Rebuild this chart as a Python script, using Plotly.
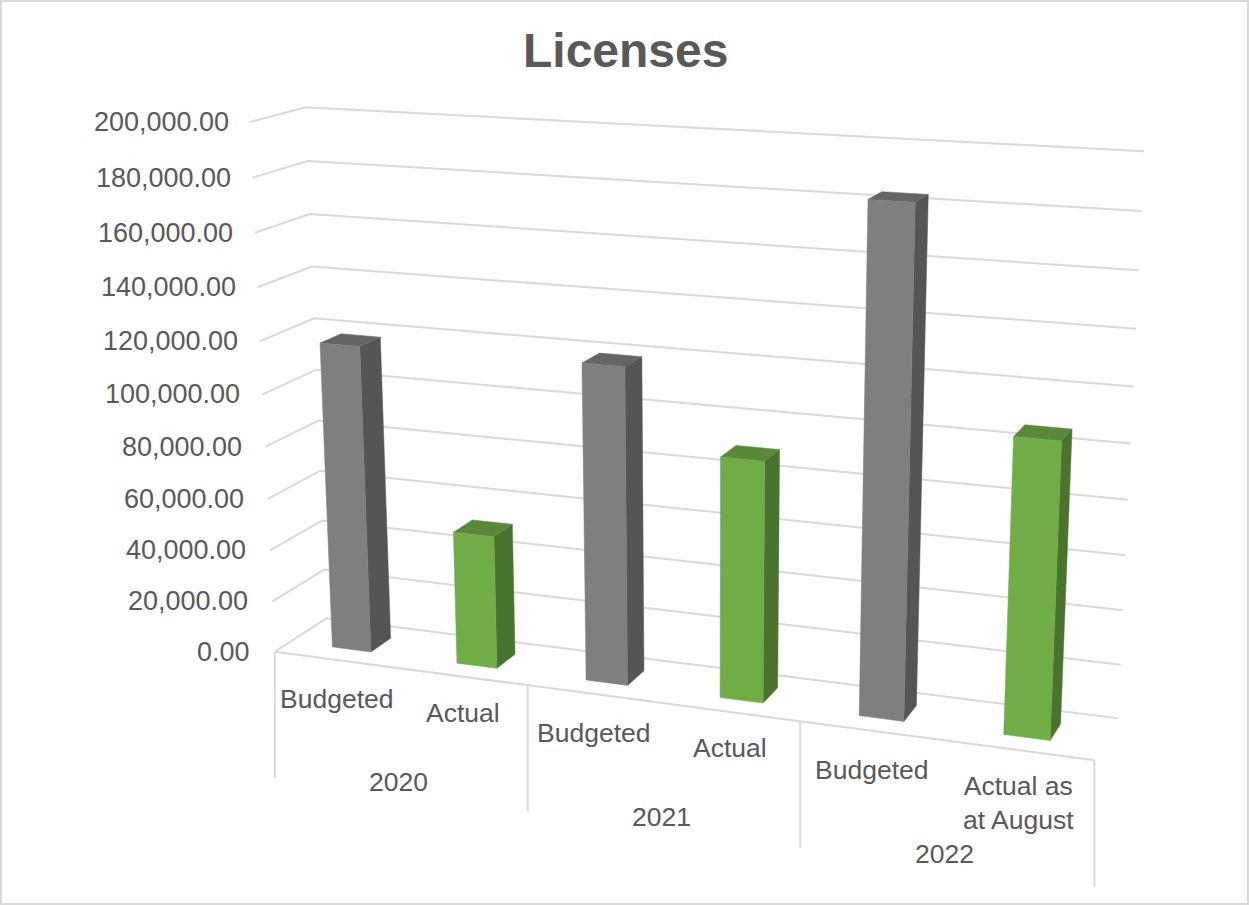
import numpy as np
import plotly.graph_objects as go

# Chart data
title = "Licenses"
years = ["2020", "2021", "2022"]
categories = ["Budgeted", "Actual", "Budgeted", "Actual", "Budgeted", "Actual as<br>at August"]
values = [118000, 51000, 119000, 89500, 183500, 106500]
series_of_bar = ["budget", "actual", "budget", "actual", "budget", "actual"]
value_ticks = list(range(0, 200001, 20000))
value_max = 200000

# Face colours per series: front, side, top
face_colors = {
    "budget": ("#7F7F7F", "#555555", "#656565"),
    "actual": ("#70AD47", "#4A732F", "#5A8A39"),
}
GRID = "#D9D9D9"
TEXT = "#595959"
FONT = "Liberation Sans, Arial, sans-serif"

# Perspective camera: unit-box coordinates (along, depth, height) -> canvas pixels
calibration = [
    ((0, 0, 0), (275, 651.7)), ((0, 1, 0), (326, 618.3)), ((1, 1, 0), (1118.3, 718.3)),
    ((1, 0, 0), (1094.3, 760)), ((0, 0, 1), (249.5, 122)), ((0, 1, 1), (305.7, 107.3)),
    ((1, 1, 1), (1144, 151.3)), ((0, 0, .9), (252.5, 177.7)), ((0, 1, .9), (307.5, 161)),
    ((1, 1, .9), (1141.3, 211)), ((1, 1, .1), (1120.7, 664.7)),
    ((1 / 3, 0, 0), (528, 685)), ((2 / 3, 0, 0), (800, 721.7)),
]
rows = []
for (a, b, c), (px, py) in calibration:
    px, py = px / 1000, py / 1000
    rows.append([a, b, c, 1, 0, 0, 0, 0, -px * a, -px * b, -px * c, -px])
    rows.append([0, 0, 0, 0, a, b, c, 1, -py * a, -py * b, -py * c, -py])
CAMERA = np.linalg.svd(np.array(rows))[2][-1].reshape(3, 4)


def project(along, depth, value):
    """Canvas position of a point in the box; value is in chart units."""
    h = CAMERA @ np.array([along, depth, value / value_max, 1.0])
    return h[0] / h[2] * 1000, h[1] / h[2] * 1000


def polyline(points):
    """Projected x and y lists, with a break after the path."""
    xy = [project(*p) for p in points]
    return [q[0] for q in xy] + [None], [q[1] for q in xy] + [None]


fig = go.Figure()

# Wall gridlines: side wall then back wall, one path per tick
grid_x, grid_y = [], []
for tick in value_ticks:
    gx, gy = polyline([(0, 0, tick), (0, 1, tick), (1, 1, tick)])
    grid_x += gx
    grid_y += gy
# Front edge of the floor
gx, gy = polyline([(0, 0, 0), (1, 0, 0)])
grid_x += gx
grid_y += gy
# Hanging dividers of the two-level category axis
DIVIDER_DROP = 126
for i in range(len(years) + 1):
    fx, fy = project(i / len(years), 0, 0)
    grid_x += [fx, fx, None]
    grid_y += [fy, fy + DIVIDER_DROP, None]
fig.add_trace(go.Scatter(x=grid_x, y=grid_y, mode="lines",
                         line=dict(color=GRID, width=2), hoverinfo="skip"))

# Bars: gather each face type per series so they can be drawn side, top, front
SLOT = 1 / len(values)
BAR_WIDTH = SLOT / 3 * 0.94
DEPTH_FRONT, DEPTH_BACK = 0.3, 0.7
faces = {}
for i, (val, series) in enumerate(zip(values, series_of_bar)):
    left = (i + 0.5) * SLOT - BAR_WIDTH / 2
    right = left + BAR_WIDTH
    f, b = DEPTH_FRONT, DEPTH_BACK
    shapes = {
        "front": [(left, f, 0), (right, f, 0), (right, f, val), (left, f, val), (left, f, 0)],
        "side": [(right, f, 0), (right, b, 0), (right, b, val), (right, f, val), (right, f, 0)],
        "top": [(left, f, val), (right, f, val), (right, b, val), (left, b, val), (left, f, val)],
    }
    for face, pts in shapes.items():
        x, y = polyline(pts)
        store = faces.setdefault((series, face), ([], []))
        store[0].extend(x)
        store[1].extend(y)

for face, color_index in (("side", 1), ("top", 2), ("front", 0)):
    for series, colors in face_colors.items():
        x, y = faces[(series, face)]
        fig.add_trace(go.Scatter(x=x, y=y, mode="lines", fill="toself",
                                 fillcolor=colors[color_index],
                                 line=dict(color=colors[color_index], width=0.5),
                                 hoverinfo="skip"))

annotations = []


def label(text, x, y, anchor="center", size=26.5):
    annotations.append(dict(text=text, x=x, y=y, xref="x", yref="y", showarrow=False,
                            xanchor=anchor, yanchor="middle", align="center",
                            font=dict(family=FONT, size=size, color=TEXT)))


# Value axis labels sit just left of the front edge of the side wall
for tick in value_ticks:
    tx, ty = project(0, 0, tick)
    label(f"{tick:,.2f}", tx - 22.7 + 3.8 * tick / value_max, ty, anchor="right", size=27)

# Category and year labels hang below the front edge of the floor
LABEL_DROP = {"budget": 39, "actual": 36}
for i, (name, series) in enumerate(zip(categories, series_of_bar)):
    tx, ty = project((i + 0.5) * SLOT, 0, 0)
    extra = 17 if "<br>" in name else 0
    label(name, tx, ty + LABEL_DROP[series] + extra)
YEAR_DROP = 114
for i, year in enumerate(years):
    tx, ty = project((i + 0.5) / len(years), 0, 0)
    label(year, tx, ty + YEAR_DROP)

# Chart title
annotations.append(dict(text=f"<b>{title}</b>", x=625, y=50, xref="x", yref="y", showarrow=False,
                        xanchor="center", yanchor="middle",
                        font=dict(family=FONT, size=48, color=TEXT)))

fig.update_layout(
    width=1249, height=905, margin=dict(l=0, r=0, t=0, b=0),
    paper_bgcolor="white", plot_bgcolor="white", showlegend=False,
    xaxis=dict(range=[0, 1249], visible=False, fixedrange=True),
    yaxis=dict(range=[905, 0], visible=False, fixedrange=True),
    annotations=annotations,
    shapes=[dict(type="rect", xref="x", yref="y", x0=1, y0=1, x1=1248, y1=904,
                 line=dict(color=GRID, width=2), layer="below")],
)

fig.write_html("out.html", config=dict(displayModeBar=False))
